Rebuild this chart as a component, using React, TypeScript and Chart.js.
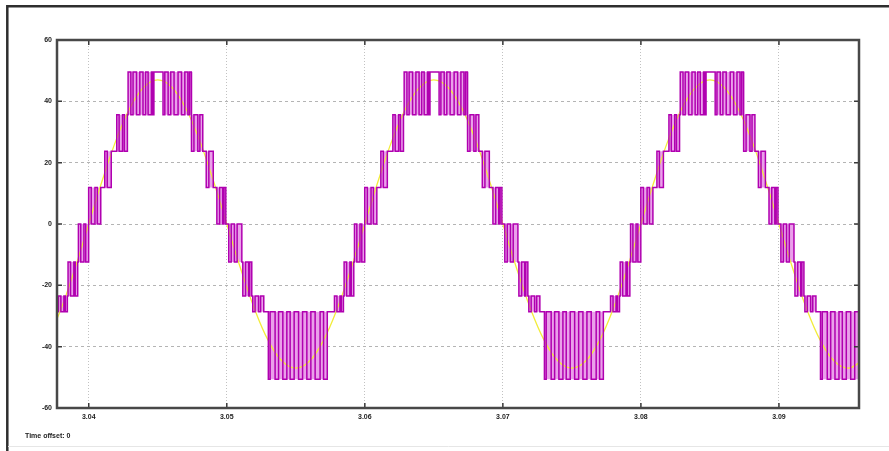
import React, { useEffect, useRef } from 'react';
import { Chart, registerables } from 'chart.js';

Chart.register(...registerables);

// ---- axes ----
const xTicks = [3.04, 3.05, 3.06, 3.07, 3.08, 3.09];
const yTicks = [-60, -40, -20, 0, 20, 40, 60];
const xMin = 3.0377;
const xMax = 3.0958;
const yMin = -60;
const yMax = 60;
const axisCaption = 'Time offset: 0';

// ---- yellow reference sine (read every 1 ms) ----
const refTime = [
  3.037, 3.038, 3.039, 3.04, 3.041, 3.042, 3.043, 3.044, 3.045, 3.046,
  3.047, 3.048, 3.049, 3.05, 3.051, 3.052, 3.053, 3.054, 3.055, 3.056,
  3.057, 3.058, 3.059, 3.06, 3.061, 3.062, 3.063, 3.064, 3.065, 3.066,
  3.067, 3.068, 3.069, 3.07, 3.071, 3.072, 3.073, 3.074, 3.075, 3.076,
  3.077, 3.078, 3.079, 3.08, 3.081, 3.082, 3.083, 3.084, 3.085, 3.086,
  3.087, 3.088, 3.089, 3.09, 3.091, 3.092, 3.093, 3.094, 3.095, 3.096,
];
const refVolt = [
  -38.0, -27.6, -14.5, 0, 14.5, 27.6, 38.0, 44.7, 47.0, 44.7,
  38.0, 27.6, 14.5, 0, -14.5, -27.6, -38.0, -44.7, -47.0, -44.7,
  -38.0, -27.6, -14.5, 0, 14.5, 27.6, 38.0, 44.7, 47.0, 44.7,
  38.0, 27.6, 14.5, 0, -14.5, -27.6, -38.0, -44.7, -47.0, -44.7,
  -38.0, -27.6, -14.5, 0, 14.5, 27.6, 38.0, 44.7, 47.0, 44.7,
  38.0, 27.6, 14.5, 0, -14.5, -27.6, -38.0, -44.7, -47.0, -44.7,
];

// ---- magenta multilevel PWM: switching instants (s) and level after each switch ----
const pwmTime = [
  3.0374,
  // tail of negative half (3.03)
  3.0378, 3.03798, 3.0382, 3.0383, 3.03845, 3.0385, 3.03868, 3.03892, 3.03902, 3.0392,
  3.03925, 3.03942, 3.03965, 3.03978, 3.03998,
  // positive half 3.04
  3.04, 3.04018, 3.04045, 3.04062, 3.04087, 3.04116, 3.04134, 3.04163, 3.04203, 3.0422,
  3.04245, 3.04258, 3.0428, 3.04285, 3.04305, 3.04321, 3.04346, 3.0437, 3.04393, 3.04412,
  3.0443, 3.04454, 3.04464, 3.04472, 3.04538, 3.04551, 3.04575, 3.04594, 3.04618, 3.04647,
  3.04672, 3.04696, 3.04718, 3.0473, 3.04743, 3.04745, 3.04762, 3.0479, 3.04805, 3.04826,
  3.04851, 3.0487, 3.04902, 3.04928, 3.04948, 3.0497, 3.0498, 3.04993,
  // negative half 3.05
  3.05014, 3.05032, 3.05055, 3.05075, 3.05109, 3.05116, 3.05136, 3.05158, 3.05166, 3.05181,
  3.05188, 3.05205, 3.0523, 3.05245, 3.05268, 3.05301, 3.05314, 3.0535, 3.05375, 3.05406,
  3.05435, 3.05459, 3.05488, 3.0552, 3.05549, 3.0558, 3.05609, 3.0564, 3.05676, 3.05701,
  3.05728, 3.0578, 3.05798, 3.0582, 3.0583, 3.05845, 3.0585, 3.05868, 3.05892, 3.05902,
  3.0592, 3.05925, 3.05942, 3.05965, 3.05978, 3.05998,
  // positive half 3.06
  3.06, 3.06018, 3.06045, 3.06062, 3.06087, 3.06116, 3.06134, 3.06163, 3.06203, 3.0622,
  3.06245, 3.06258, 3.0628, 3.06285, 3.06305, 3.06321, 3.06346, 3.0637, 3.06393, 3.06412,
  3.0643, 3.06454, 3.06464, 3.06472, 3.06538, 3.06551, 3.06575, 3.06594, 3.06618, 3.06647,
  3.06672, 3.06696, 3.06718, 3.0673, 3.06743, 3.06745, 3.06762, 3.0679, 3.06805, 3.06826,
  3.06851, 3.0687, 3.06902, 3.06928, 3.06948, 3.0697, 3.0698, 3.06993,
  // negative half 3.07
  3.07014, 3.07032, 3.07055, 3.07075, 3.07109, 3.07116, 3.07136, 3.07158, 3.07166, 3.07181,
  3.07188, 3.07205, 3.0723, 3.07245, 3.07268, 3.07301, 3.07314, 3.0735, 3.07375, 3.07406,
  3.07435, 3.07459, 3.07488, 3.0752, 3.07549, 3.0758, 3.07609, 3.0764, 3.07676, 3.07701,
  3.07728, 3.0778, 3.07798, 3.0782, 3.0783, 3.07845, 3.0785, 3.07868, 3.07892, 3.07902,
  3.0792, 3.07925, 3.07942, 3.07965, 3.07978, 3.07998,
  // positive half 3.08
  3.08, 3.08018, 3.08045, 3.08062, 3.08087, 3.08116, 3.08134, 3.08163, 3.08203, 3.0822,
  3.08245, 3.08258, 3.0828, 3.08285, 3.08305, 3.08321, 3.08346, 3.0837, 3.08393, 3.08412,
  3.0843, 3.08454, 3.08464, 3.08472, 3.08538, 3.08551, 3.08575, 3.08594, 3.08618, 3.08647,
  3.08672, 3.08696, 3.08718, 3.0873, 3.08743, 3.08745, 3.08762, 3.0879, 3.08805, 3.08826,
  3.08851, 3.0887, 3.08902, 3.08928, 3.08948, 3.0897, 3.0898, 3.08993,
  // negative half 3.09 (cut by the right edge)
  3.09014, 3.09032, 3.09055, 3.09075, 3.09109, 3.09116, 3.09136, 3.09158, 3.09166, 3.09181,
  3.09188, 3.09205, 3.0923, 3.09245, 3.09268, 3.09301, 3.09314, 3.0935, 3.09375, 3.09406,
  3.09435, 3.09459, 3.09488, 3.0952, 3.09549, 3.0958, 3.09609, 3.0964, 3.0966,
];
const pwmLevel = [
  -28.6,
  -23.5, -28.6, -23.5, -28.6, -23.5, -12.4, -23.5, -12.4, -23.5, -12.4,
  0, -12.4, 0, -12.4, 0,
  // + 3.04
  11.9, 0, 11.9, 0, 11.9, 23.7, 11.9, 23.7, 35.6, 23.7,
  35.6, 23.7, 35.6, 49.6, 35.6, 49.6, 35.6, 49.6, 35.6, 49.6,
  35.6, 49.6, 35.6, 49.6, 35.6, 49.6, 35.6, 49.6, 35.6, 49.6,
  35.6, 49.6, 35.6, 49.6, 35.6, 23.7, 35.6, 23.7, 35.6, 23.7,
  11.9, 23.7, 11.9, 0, 11.9, 0, 11.9, 0,
  // - 3.05
  -12.4, 0, -12.4, 0, -12.4, -23.5, -12.4, -23.5, -12.4, -23.5,
  -28.6, -23.5, -28.6, -23.5, -28.6, -50.6, -28.6, -50.6, -28.6, -50.6,
  -28.6, -50.6, -28.6, -50.6, -28.6, -50.6, -28.6, -50.6, -28.6, -50.6,
  -28.6, -23.5, -28.6, -23.5, -28.6, -23.5, -12.4, -23.5, -12.4, -23.5,
  -12.4, 0, -12.4, 0, -12.4, 0,
  // + 3.06
  11.9, 0, 11.9, 0, 11.9, 23.7, 11.9, 23.7, 35.6, 23.7,
  35.6, 23.7, 35.6, 49.6, 35.6, 49.6, 35.6, 49.6, 35.6, 49.6,
  35.6, 49.6, 35.6, 49.6, 35.6, 49.6, 35.6, 49.6, 35.6, 49.6,
  35.6, 49.6, 35.6, 49.6, 35.6, 23.7, 35.6, 23.7, 35.6, 23.7,
  11.9, 23.7, 11.9, 0, 11.9, 0, 11.9, 0,
  // - 3.07
  -12.4, 0, -12.4, 0, -12.4, -23.5, -12.4, -23.5, -12.4, -23.5,
  -28.6, -23.5, -28.6, -23.5, -28.6, -50.6, -28.6, -50.6, -28.6, -50.6,
  -28.6, -50.6, -28.6, -50.6, -28.6, -50.6, -28.6, -50.6, -28.6, -50.6,
  -28.6, -23.5, -28.6, -23.5, -28.6, -23.5, -12.4, -23.5, -12.4, -23.5,
  -12.4, 0, -12.4, 0, -12.4, 0,
  // + 3.08
  11.9, 0, 11.9, 0, 11.9, 23.7, 11.9, 23.7, 35.6, 23.7,
  35.6, 23.7, 35.6, 49.6, 35.6, 49.6, 35.6, 49.6, 35.6, 49.6,
  35.6, 49.6, 35.6, 49.6, 35.6, 49.6, 35.6, 49.6, 35.6, 49.6,
  35.6, 49.6, 35.6, 49.6, 35.6, 23.7, 35.6, 23.7, 35.6, 23.7,
  11.9, 23.7, 11.9, 0, 11.9, 0, 11.9, 0,
  // - 3.09
  -12.4, 0, -12.4, 0, -12.4, -23.5, -12.4, -23.5, -12.4, -23.5,
  -28.6, -23.5, -28.6, -23.5, -28.6, -50.6, -28.6, -50.6, -28.6, -50.6,
  -28.6, -50.6, -28.6, -50.6, -28.6, -50.6, -28.6, -50.6, -50.6,
];

// switching groups closer than this (s) are shaded as one band
const bandGapLimit = 0.0005;

type Pt = { x: number; y: number | null };

function buildPwmPoints(): Pt[] {
  const pts: Pt[] = [{ x: pwmTime[0], y: pwmLevel[0] }];
  for (let i = 1; i < pwmTime.length; i++) {
    pts.push({ x: pwmTime[i], y: pwmLevel[i - 1] });
    pts.push({ x: pwmTime[i], y: pwmLevel[i] });
  }
  return pts;
}

function buildBands() {
  const bands: { start: number; end: number; lo: number; hi: number }[] = [];
  let cur: { start: number; end: number; lo: number; hi: number } | null = null;
  for (let i = 1; i < pwmTime.length; i++) {
    const a = pwmLevel[i - 1];
    const b = pwmLevel[i];
    if (a === b) continue;
    const lo = Math.min(a, b);
    const hi = Math.max(a, b);
    const t = pwmTime[i];
    if (cur && cur.lo === lo && cur.hi === hi && t - cur.end < bandGapLimit) {
      cur.end = t;
    } else {
      cur = { start: t, end: t, lo, hi };
      bands.push(cur);
    }
  }
  const top: Pt[] = [];
  const bottom: Pt[] = [];
  bands.forEach((bd) => {
    top.push({ x: bd.start, y: bd.hi }, { x: bd.end, y: bd.hi }, { x: bd.end, y: null });
    bottom.push({ x: bd.start, y: bd.lo }, { x: bd.end, y: bd.lo }, { x: bd.end, y: null });
  });
  return { top, bottom };
}

const FONT = '"Liberation Sans", Arial, sans-serif';

const scopeFrame = {
  id: 'scopeFrame',
  afterDraw(chart: any) {
    const { ctx, chartArea: a, scales } = chart;
    ctx.save();
    // inward tick marks
    ctx.strokeStyle = '#3a3a3a';
    ctx.lineWidth = 1.5;
    ctx.beginPath();
    scales.x.ticks.forEach((t: any) => {
      const px = scales.x.getPixelForValue(t.value);
      ctx.moveTo(px, a.top);
      ctx.lineTo(px, a.top + 5);
      ctx.moveTo(px, a.bottom);
      ctx.lineTo(px, a.bottom - 5);
    });
    scales.y.ticks.forEach((t: any) => {
      const py = scales.y.getPixelForValue(t.value);
      ctx.moveTo(a.left, py);
      ctx.lineTo(a.left + 5, py);
      ctx.moveTo(a.right, py);
      ctx.lineTo(a.right - 5, py);
    });
    ctx.stroke();
    // plot frame
    ctx.strokeStyle = '#484848';
    ctx.lineWidth = 2.5;
    ctx.strokeRect(a.left, a.top, a.right - a.left, a.bottom - a.top);
    // outer window frame
    ctx.strokeStyle = '#2e2e2e';
    ctx.lineWidth = 2.5;
    ctx.beginPath();
    ctx.moveTo(7.3, 451);
    ctx.lineTo(7.3, 6.2);
    ctx.lineTo(889, 6.2);
    ctx.stroke();
    ctx.strokeStyle = '#e6e6e6';
    ctx.lineWidth = 1;
    ctx.beginPath();
    ctx.moveTo(8, 446.5);
    ctx.lineTo(889, 446.5);
    ctx.stroke();
    // caption
    ctx.font = `bold 7px ${FONT}`;
    ctx.fillStyle = '#222';
    ctx.textBaseline = 'middle';
    ctx.textAlign = 'left';
    ctx.fillText(axisCaption, 25, 436);
    ctx.restore();
  },
};

export default function App() {
  const ref = useRef<HTMLCanvasElement | null>(null);
  useEffect(() => {
    if (!ref.current) return;
    const bands = buildBands();
    const chart = new Chart(ref.current, {
      type: 'line',
      data: {
        datasets: [
          {
            label: 'inverter output',
            data: buildPwmPoints(),
            borderColor: '#b000b0',
            borderWidth: 1.5,
            pointRadius: 0,
            tension: 0,
            fill: false,
          },
          {
            label: 'reference',
            data: refTime.map((t, i) => ({ x: t, y: refVolt[i] })),
            borderColor: '#f2ec3a',
            borderWidth: 1.3,
            pointRadius: 0,
            tension: 0.4,
            fill: false,
          },
          {
            label: 'band top',
            data: bands.top,
            borderWidth: 0,
            borderColor: 'rgba(0,0,0,0)',
            backgroundColor: '#eaa0ea',
            pointRadius: 0,
            spanGaps: false,
            fill: '+1',
          },
          {
            label: 'band bottom',
            data: bands.bottom,
            borderWidth: 0,
            borderColor: 'rgba(0,0,0,0)',
            pointRadius: 0,
            spanGaps: false,
            fill: false,
          },
        ],
      },
      options: {
        responsive: false,
        animation: false,
        devicePixelRatio: 1,
        layout: { padding: { left: 0, top: 40, right: 30, bottom: 0 } },
        plugins: { legend: { display: false }, tooltip: { enabled: false } },
        scales: {
          x: {
            type: 'linear',
            min: xMin,
            max: xMax,
            afterBuildTicks: (s: any) => {
              s.ticks = xTicks.map((v) => ({ value: v }));
            },
            afterFit: (s: any) => {
              s.height = 43;
            },
            ticks: {
              autoSkip: false,
              maxRotation: 0,
              padding: 5,
              color: '#222',
              font: { family: FONT, size: 7, weight: 'bold' },
              callback: (v: any) => Number(v).toFixed(2),
            },
            grid: { color: '#c2c2c2', lineWidth: 1, drawTicks: false },
            border: { display: false, dash: [1, 2] },
          },
          y: {
            type: 'linear',
            min: yMin,
            max: yMax,
            afterBuildTicks: (s: any) => {
              s.ticks = yTicks.map((v) => ({ value: v }));
            },
            afterFit: (s: any) => {
              s.width = 57;
            },
            ticks: {
              padding: 5,
              color: '#222',
              font: { family: FONT, size: 7, weight: 'bold' },
              callback: (v: any) => String(v),
            },
            grid: { color: '#b4b4b4', lineWidth: 1, drawTicks: false },
            border: { display: false, dash: [3, 3] },
          },
        },
      },
      plugins: [scopeFrame],
    } as any);
    return () => chart.destroy();
  }, []);
  return (
    <div style={{ position: 'absolute', left: 0, top: 0, width: 889, height: 451, background: '#fff' }}>
      <canvas ref={ref} width={889} height={451} style={{ display: 'block' }} />
    </div>
  );
}
